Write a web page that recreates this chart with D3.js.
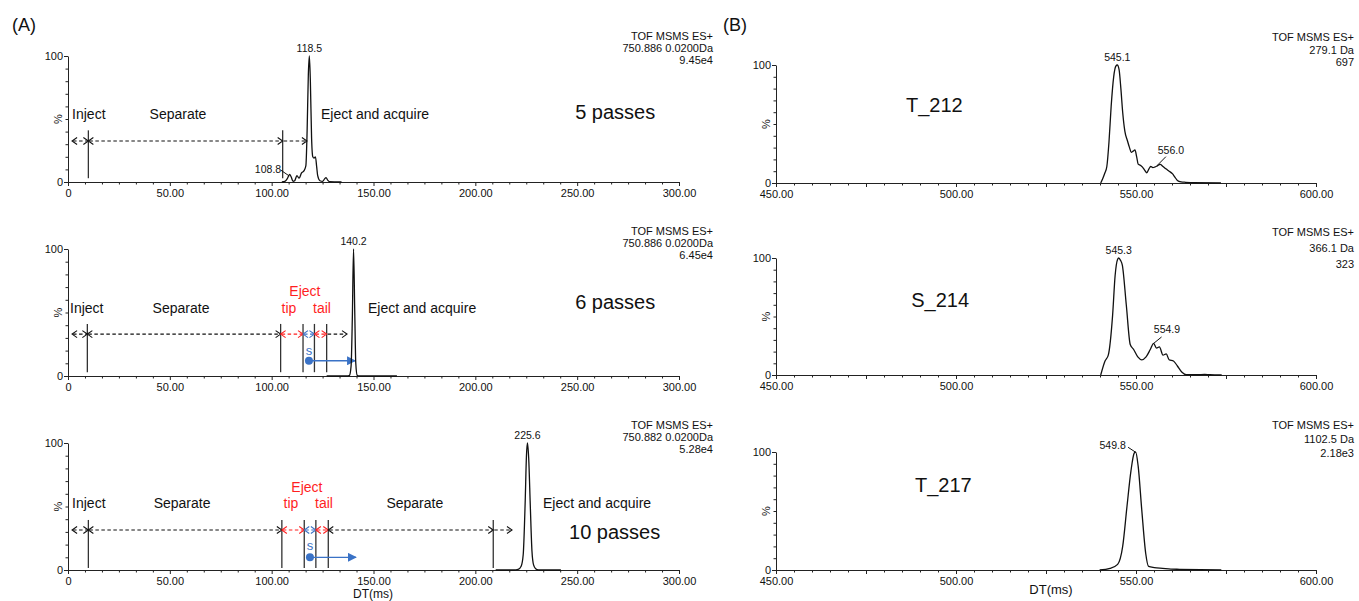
<!DOCTYPE html>
<html><head><meta charset="utf-8">
<script src="https://cdn.jsdelivr.net/npm/d3@7"></script>
<style>body{margin:0;background:#fff}svg{display:block}text{font-family:"Liberation Sans",Arial,sans-serif;fill:#111}</style>
</head><body><svg id="c" width="1359" height="601"></svg>
<script>
// ---------------- DATA ----------------
const passLabels = ["5 passes", "6 passes", "10 passes"];
const headersA = [["TOF MSMS ES+", "750.886 0.0200Da", "9.45e4"], ["TOF MSMS ES+", "750.886 0.0200Da", "6.45e4"], ["TOF MSMS ES+", "750.882 0.0200Da", "5.28e4"]];
const headersB = [["TOF MSMS ES+", "279.1 Da", "697"], ["TOF MSMS ES+", "366.1 Da", "323"], ["TOF MSMS ES+", "1102.5 Da", "2.18e3"]];
const peptideLabels = ["T_212", "S_214", "T_217"];
const xTicksA = [0, 50, 100, 150, 200, 250, 300];
const xTickLabelsA = ["0", "50.00", "100.00", "150.00", "200.00", "250.00", "300.00"];
const xTicksB = [450, 500, 550, 600];
const xTickLabelsB = ["450.00", "500.00", "550.00", "600.00"];
const yTicks = [0, 100];
const yTickLabels = ["0", "100"];

// drift-time traces (ms, %)
const trace5 = [[105,0],[106.5,0.5],[107.8,3],[108.8,6],[109.6,4],[110.5,0.5],[111.3,1],[112.4,5],[113.5,3],[114.6,7],[115.9,9],[116.8,13],[117.4,40],[118,85],[118.5,100],[119,80],[119.6,35],[120.2,20],[120.8,19],[121.5,20],[122.1,12],[122.6,5],[123.7,1],[125,0.5],[126,2.5],[126.7,3.5],[127.5,1.5],[128.3,0.3],[134.3,0]];
const trace6 = [[127,0],[137,0],[138.2,0.5],[139,8],[139.6,45],[140.2,100],[140.8,50],[141.3,10],[142,0.5],[143,0],[161.5,0]];
const trace10 = [[210,0],[219,0],[221,0.5],[222.5,3],[223.5,12],[224.5,55],[225.1,90],[225.6,100],[226.2,88],[227,50],[227.8,15],[228.6,4],[229.6,1],[231,0],[242,0]];
const traceT212 = [[540.2,0],[540.8,4],[541.3,8],[541.9,14],[542.5,35],[543.1,65],[543.8,90],[544.4,99],[544.8,100],[545.3,96],[545.8,80],[546.3,60],[546.9,44],[547.6,36],[548.2,30],[548.7,26],[549.2,27],[549.7,28],[550.2,22],[550.6,16],[551.2,15],[551.8,13.5],[552.4,11],[553.0,8.7],[553.6,12],[554.1,14],[554.7,13],[555.2,13.5],[555.9,14.5],[556.7,15.7],[557.5,14],[558.3,12],[559.2,10],[560.1,7.9],[560.8,5],[561.5,2.2],[562.5,1],[563.8,0.6],[566,0.2],[573.6,0]];
const traceS214 = [[540.2,0],[541.4,12],[542.3,17],[543.5,51],[544.2,85],[544.9,99],[545.2,100],[545.7,98],[546.2,94],[547.3,60],[548.4,26],[549.3,22],[550.5,15.5],[551.6,13],[552.8,15.5],[554.0,22],[554.9,27],[555.7,23],[556.5,24],[557.5,17],[558.4,18],[559.2,13],[560.4,12],[561.5,7.7],[562.7,2.5],[563.9,0.3],[567,0.2],[569.1,0.6],[570.5,0.2],[573.8,0]];
const traceT217 = [[539.9,0],[542.8,1.4],[544.9,4.8],[546.3,20],[547.5,54],[548.6,84],[549.5,99],[549.9,100],[550.6,88],[551.6,51],[552.7,14],[553.5,3],[555.1,2],[557.4,1.4],[559.7,0.8],[562.1,0.6],[573.7,0]];

// peak labels: [text, peak x, peak y, label x, label y(%) or null for above peak, leader]
const peaks5 = [["118.5",118.5,100,118.5,null],["108.8",108.8,5,98.2,10.3,[104.4,9.5,108.6,4.8]]];
const peaks6 = [["140.2",140.2,100,140.2,null]];
const peaks10 = [["225.6",225.6,100,225.6,null]];
const peaksT212 = [["545.1",544.8,100,544.8,null],["556.0",556.0,15,559.7,28,[558.3,22.3,556.0,15.2]]];
const peaksS214 = [["545.3",545.2,100,545.2,null],["554.9",554.9,27,558.6,39.3,[557.1,32.5,554.9,27]]];
const peaksT217 = [["549.8",549.8,100,543.5,106,[547.8,104,549.8,100]]];

// method phase annotations (drift time, ms)
const vlines5 = [10, 105.4];
const vlines6 = [9.5, 104.4, 115.4, 121, 127];
const vlines10 = [10, 105, 116, 121.7, 127.8, 208.8];
// [from, to, heads, colour key]
const arrows5 = [[2,10,"both","k"],[10,105.4,"both","k"],[105.4,117.3,"end","k"]];
const arrows6 = [[2,9.5,"both","k"],[9.5,104.4,"both","k"],[104.4,115.4,"both","r"],[115.4,121,"both","b"],[121,127,"both","r"],[127,137,"end","k"]];
const arrows10 = [[2,10,"both","k"],[10,105,"both","k"],[105,116,"both","r"],[116,121.7,"both","b"],[121.7,127.8,"both","r"],[127.8,208.8,"both","k"],[208.8,218,"end","k"]];
// [text, x, y(%), anchor, colour key]
const phaseText5 = [["Inject",2,54,"start","k"],["Separate",54,54,"middle","k"],["Eject and acquire",124.2,54,"start","k"]];
const phaseText6 = [["Inject",1,53.5,"start","k"],["Separate",55.5,53.5,"middle","k"],["Eject",116.3,67,"middle","r"],["tip",108.5,53.5,"middle","r"],["tail",124.7,53.5,"middle","r"],["Eject and acquire",147.3,53.5,"start","k"],["s",118.3,20.5,"middle","b"]];
const phaseText10 = [["Inject",2,53,"start","k"],["Separate",56,53,"middle","k"],["Eject",117.3,65,"middle","r"],["tip",109.5,53,"middle","r"],["tail",125.7,53,"middle","r"],["Separate",170.3,53,"middle","k"],["Eject and acquire",233.2,53,"start","k"],["s",118.8,19,"middle","b"]];
// blue "s" transfer arrows [from, to, y%]
const sArrow6 = [118.3, 141, 12];
const sArrow10 = [118.8, 141.4, 10];

// ---------------- DRAWING ----------------
const colors = {k: "#111", r: "#ff1f1f", b: "#3a72c6"};
const svg = d3.select("#c");
const defs = svg.append("defs");
defs.append("marker").attr("id","tri").attr("viewBox","0 0 10 10").attr("refX",9).attr("refY",5)
  .attr("markerWidth",9).attr("markerHeight",9).attr("markerUnits","userSpaceOnUse").attr("orient","auto")
  .append("path").attr("d","M0,0L10,5L0,10Z").attr("fill",colors.b);

function panel(o) {
  const x = d3.scaleLinear().domain(o.xdom).range([o.x0, o.x1]);
  const y = d3.scaleLinear().domain([0, 100]).range([o.yb, o.yt]);
  const g = svg.append("g");

  g.append("g").attr("transform", `translate(0,${o.yb})`)
    .call(d3.axisBottom(x).tickValues(o.xticks).tickFormat((d, i) => o.xlabels[i]).tickSizeInner(4).tickSizeOuter(0).tickPadding(3));
  g.append("g").attr("transform", `translate(0,${o.yb})`)
    .call(d3.axisBottom(x).tickValues(o.midTicks).tickFormat("").tickSize(4)).call(s => s.select(".domain").remove());
  g.append("g").attr("transform", `translate(0,${o.yb})`)
    .call(d3.axisBottom(x).tickValues(o.minorTicks).tickFormat("").tickSize(2.5)).call(s => s.select(".domain").remove());
  g.append("g").attr("transform", `translate(${o.x0},0)`)
    .call(d3.axisLeft(y).tickValues(yTicks).tickFormat((d, i) => yTickLabels[i]).tickSizeInner(4).tickSizeOuter(0).tickPadding(1));
  g.append("g").attr("transform", `translate(${o.x0},0)`)
    .call(d3.axisLeft(y).tickValues(d3.range(10, 100, 10)).tickFormat("").tickSize(2.5)).call(s => s.select(".domain").remove());
  g.selectAll(".tick text").style("font-size", "11px").style("font-family", '"Liberation Sans",Arial,sans-serif').attr("fill", "#111");
  g.selectAll(".domain, .tick line").attr("stroke", "#222");
  g.append("text").attr("transform", `translate(${o.x0 - 6},${y(50)}) rotate(-90)`).attr("text-anchor", "middle")
    .style("font-size", "11px").text("%");

  o.header.forEach((t, i) => g.append("text").attr("x", o.hx).attr("y", o.hy[i]).attr("text-anchor", "end")
    .style("font-size", "11px").text(t));

  if (o.vlines) {
    o.vlines.forEach(v => g.append("line").attr("x1", x(v)).attr("x2", x(v)).attr("y1", y(o.vl[0])).attr("y2", y(o.vl[1]))
      .attr("stroke", "#333").attr("stroke-width", 1.3));
    const ay = y(o.ay);
    o.arrows.forEach(([a, b, h, c]) => {
      const col = colors[c];
      g.append("line").attr("x1", x(a) + 1).attr("x2", x(b) - 1).attr("y1", ay).attr("y2", ay)
        .attr("stroke", col).attr("stroke-width", 1.1).attr("stroke-dasharray", "3.5,2.5");
      const head = (px, dir) => g.append("path")
        .attr("d", `M${px + dir * 5},${ay - 3.5}L${px},${ay}L${px + dir * 5},${ay + 3.5}`)
        .attr("fill", "none").attr("stroke", col).attr("stroke-width", 1.1);
      if (h === "both") head(x(a), 1);
      head(x(b), -1);
    });
    o.texts.forEach(([t, tx, ty, anc, c]) => g.append("text").attr("x", x(tx)).attr("y", y(ty)).attr("dy", "0.35em")
      .attr("text-anchor", anc).style("font-size", c === "b" && t === "s" ? "13px" : "14px").style("fill", colors[c]).text(t));
    if (o.sArrow) {
      const [a, b, yy] = o.sArrow;
      g.append("line").attr("x1", x(a)).attr("x2", x(b)).attr("y1", y(yy)).attr("y2", y(yy))
        .attr("stroke", colors.b).attr("stroke-width", 1.3).attr("marker-end", "url(#tri)");
      g.append("circle").attr("cx", x(a)).attr("cy", y(yy)).attr("r", 4).attr("fill", colors.b);
    }
  }

  g.append("path").datum(o.trace)
    .attr("d", d3.line().x(d => x(d[0])).y(d => y(d[1])).curve(d3.curveMonotoneX))
    .attr("fill", "none").attr("stroke", "#111").attr("stroke-width", 1.3);

  o.peaks.forEach(p => {
    const [t, px, py, lx, ly, lead] = p;
    if (ly === null) {
      g.append("text").attr("x", x(lx)).attr("y", y(py) - 4).attr("text-anchor", "middle").style("font-size", "10.5px").text(t);
    } else {
      g.append("text").attr("x", x(lx)).attr("y", y(ly)).attr("dy", "0.35em").attr("text-anchor", "middle").style("font-size", "10.5px").text(t);
      if (lead) g.append("line").attr("x1", x(lead[0])).attr("y1", y(lead[1])).attr("x2", x(lead[2])).attr("y2", y(lead[3]))
        .attr("stroke", "#111").attr("stroke-width", 1);
    }
  });

  if (o.big) g.append("text").attr("x", x(o.big[1])).attr("y", y(o.big[2])).attr("dy", "0.35em")
    .attr("text-anchor", o.big[3]).style("font-size", "20px").text(o.big[0]);
  return {x, y};
}

const minorA = d3.range(0, 300.001, 50 / 6).filter(v => Math.abs(v % 50) > 0.01 && Math.abs(v % 50 - 50) > 0.01);
const minorB = d3.range(450, 600.001, 5).filter(v => v % 25 !== 0);
const midB = [475, 525, 575];
const leftY = [[56, 182], [249, 376], [443, 570]];
const rightY = [[65, 183], [258, 375], [452, 570]];
const hyA = [[40, 52, 64], [235, 247, 259], [429, 441, 453]];
const hyB = [[41, 54, 66], [236, 252, 268], [429, 443, 457]];
const tracesA = [trace5, trace6, trace10];
const peaksA = [peaks5, peaks6, peaks10];
const vlinesA = [vlines5, vlines6, vlines10];
const arrowsA = [arrows5, arrows6, arrows10];
const textsA = [phaseText5, phaseText6, phaseText10];
const sArrowsA = [null, sArrow6, sArrow10];
const bigA = [[passLabels[0], 249, 55.5, "start"], [passLabels[1], 249, 58, "start"], [passLabels[2], 246, 30, "start"]];
const vlA = [[3, 41], [3, 41], [1.6, 39.4]];
const ayA = [32.5, 33, 31.5];
const tracesB = [traceT212, traceS214, traceT217];
const peaksB = [peaksT212, peaksS214, peaksT217];
const bigB = [[peptideLabels[0], 494, 66, "middle"], [peptideLabels[1], 495.6, 64, "middle"], [peptideLabels[2], 496.5, 72, "middle"]];

for (let i = 0; i < 3; i++) {
  panel({xdom: [0, 300], x0: 68, x1: 679, yb: leftY[i][1], yt: leftY[i][0], xticks: xTicksA, xlabels: xTickLabelsA,
    midTicks: [], minorTicks: minorA, header: headersA[i], hx: 713, hy: hyA[i], trace: tracesA[i], peaks: peaksA[i],
    vlines: vlinesA[i], vl: vlA[i], ay: ayA[i], arrows: arrowsA[i], texts: textsA[i], sArrow: sArrowsA[i], big: bigA[i]});
  panel({xdom: [450, 600], x0: 776, x1: 1316, yb: rightY[i][1], yt: rightY[i][0], xticks: xTicksB, xlabels: xTickLabelsB,
    midTicks: midB, minorTicks: minorB, header: headersB[i], hx: 1354, hy: hyB[i], trace: tracesB[i], peaks: peaksB[i],
    big: bigB[i]});
}
svg.append("text").attr("x", 12).attr("y", 31).style("font-size", "18px").text("(A)");
svg.append("text").attr("x", 723).attr("y", 31).style("font-size", "18px").text("(B)");
svg.append("text").attr("x", 373).attr("y", 598).attr("text-anchor", "middle").style("font-size", "12px").text("DT(ms)");
svg.append("text").attr("x", 1051).attr("y", 594).attr("text-anchor", "middle").style("font-size", "13px").text("DT(ms)");
</script></body></html>
